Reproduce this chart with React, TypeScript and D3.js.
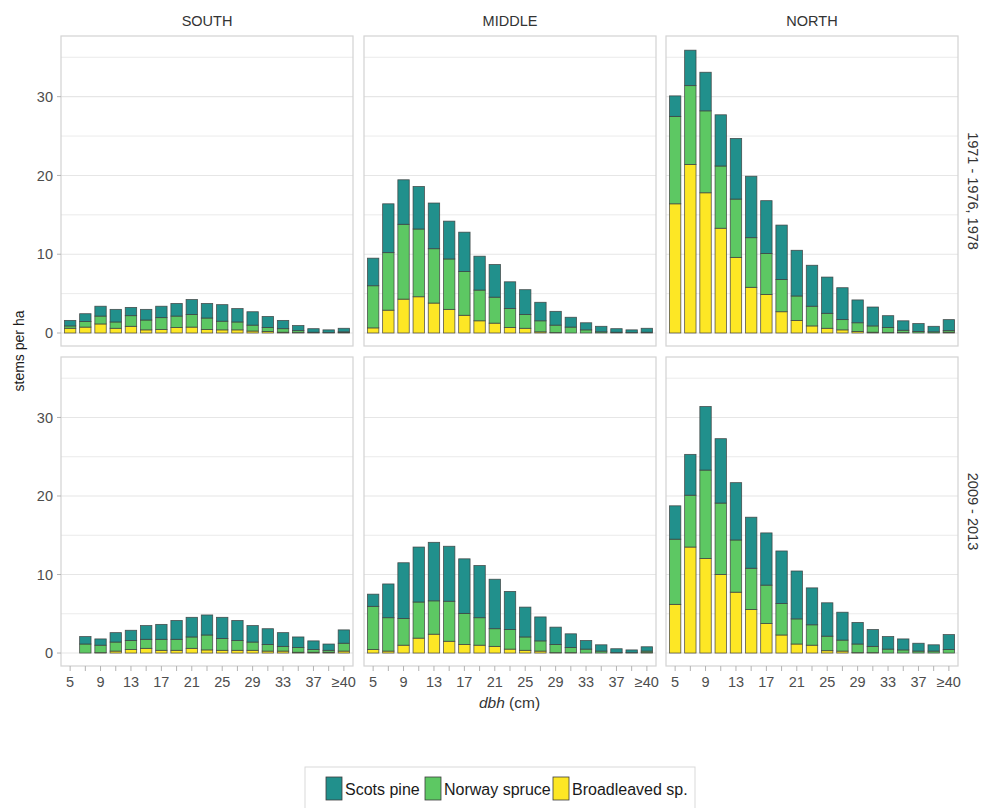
import React from "react";
import * as d3 from "d3";

const categories = ["5","7","9","11","13","15","17","19","21","23","25","27","29","31","33","35","37","39","≥40"];
const xTickLabels = ["5","","9","","13","","17","","21","","25","","29","","33","","37","","≥40"];
const regions = ["SOUTH", "MIDDLE", "NORTH"];
const periods = ["1971 - 1976, 1978", "2009 - 2013"];
const species = ["Broadleaved sp.", "Norway spruce", "Scots pine"];
const legendOrder = ["Scots pine", "Norway spruce", "Broadleaved sp."];
const yTicks = [0, 10, 20, 30];
const yGrid = [0, 5, 10, 15, 20, 25, 30, 35];

// Period 1 (1971 - 1976, 1978)
const southP1Broad = [0.6, 0.75, 1.15, 0.6, 0.85, 0.4, 0.45, 0.7, 0.75, 0.45, 0.4, 0.4, 0.25, 0.2, 0.1, 0.05, 0, 0, 0.05];
const southP1Spruce = [0.3, 0.7, 1.0, 0.8, 1.35, 1.25, 1.5, 1.45, 1.6, 1.45, 1.1, 1.0, 0.75, 0.5, 0.45, 0.25, 0.1, 0.05, 0.1];
const southP1Pine = [0.7, 1.0, 1.25, 1.6, 1.05, 1.35, 1.45, 1.6, 1.9, 1.85, 2.1, 1.7, 1.7, 1.4, 1.05, 0.65, 0.45, 0.35, 0.45];

const middleP1Broad = [0.65, 2.9, 4.3, 4.6, 3.8, 3.0, 2.25, 1.55, 1.25, 0.7, 0.6, 0.15, 0.05, 0, 0, 0, 0, 0, 0];
const middleP1Spruce = [5.35, 7.3, 9.5, 8.6, 6.9, 6.4, 5.55, 3.9, 3.3, 2.4, 1.75, 1.4, 0.95, 0.75, 0.4, 0.15, 0.1, 0.05, 0.1];
const middleP1Pine = [3.5, 6.2, 5.65, 5.4, 5.8, 4.8, 5.0, 4.3, 4.15, 3.4, 3.15, 2.35, 1.75, 1.25, 0.9, 0.7, 0.45, 0.35, 0.5];

const northP1Broad = [16.4, 21.4, 17.8, 13.3, 9.6, 5.8, 4.9, 2.7, 1.6, 0.9, 0.6, 0.4, 0.2, 0.1, 0.05, 0.05, 0, 0, 0.1];
const northP1Spruce = [11.1, 10.0, 10.4, 7.9, 7.4, 6.3, 5.2, 4.1, 3.1, 2.5, 1.9, 1.3, 1.1, 0.8, 0.65, 0.3, 0.2, 0.15, 0.2];
const northP1Pine = [2.6, 4.5, 4.9, 6.5, 7.7, 7.8, 6.7, 6.9, 5.8, 5.2, 4.6, 4.05, 2.9, 2.4, 1.5, 1.2, 1.0, 0.7, 1.4];

// Period 2 (2009 - 2013)
const southP2Broad = [0, 0, 0.05, 0.25, 0.45, 0.6, 0.35, 0.35, 0.6, 0.4, 0.35, 0.35, 0.35, 0.25, 0.25, 0.1, 0.1, 0.1, 0.25];
const southP2Spruce = [0, 1.15, 0.95, 1.15, 1.15, 1.15, 1.4, 1.4, 1.45, 1.9, 1.5, 1.25, 1.05, 0.85, 0.6, 0.6, 0.35, 0.25, 1.0];
const southP2Pine = [0, 0.95, 0.8, 1.2, 1.3, 1.75, 1.9, 2.4, 2.5, 2.55, 2.7, 2.55, 2.1, 2.0, 1.75, 1.35, 1.1, 0.8, 1.7];

const middleP2Broad = [0.45, 0.25, 1.0, 1.9, 2.4, 1.5, 1.1, 1.0, 0.85, 0.5, 0.35, 0.25, 0.05, 0.05, 0, 0, 0, 0, 0.05];
const middleP2Spruce = [5.5, 4.25, 3.4, 4.6, 4.25, 5.1, 3.95, 3.5, 2.25, 2.5, 1.7, 1.3, 1.05, 0.65, 0.5, 0.25, 0.05, 0.05, 0.2];
const middleP2Pine = [1.55, 4.3, 7.1, 7.0, 7.45, 7.0, 6.95, 6.65, 6.3, 4.85, 3.8, 3.05, 2.2, 1.75, 1.1, 0.8, 0.5, 0.35, 0.55];

const northP2Broad = [6.2, 13.5, 12.05, 10.0, 7.75, 5.55, 3.75, 2.3, 1.15, 1.0, 0.3, 0.25, 0.05, 0.05, 0, 0, 0, 0, 0];
const northP2Spruce = [8.3, 6.6, 11.25, 9.1, 6.65, 5.25, 4.9, 4.0, 3.2, 2.6, 1.85, 1.4, 1.1, 0.8, 0.5, 0.4, 0.25, 0.25, 0.45];
const northP2Pine = [4.25, 5.2, 8.1, 8.2, 7.3, 6.5, 6.65, 6.7, 6.1, 4.7, 4.25, 3.55, 2.75, 2.15, 1.6, 1.4, 1.0, 0.8, 1.9];

const panelData = [
  [
    [southP1Broad, southP1Spruce, southP1Pine],
    [middleP1Broad, middleP1Spruce, middleP1Pine],
    [northP1Broad, northP1Spruce, northP1Pine],
  ],
  [
    [southP2Broad, southP2Spruce, southP2Pine],
    [middleP2Broad, middleP2Spruce, middleP2Pine],
    [northP2Broad, northP2Spruce, northP2Pine],
  ],
];

const colors: Record<string, string> = {
  "Scots pine": "#21908C",
  "Norway spruce": "#5DC863",
  "Broadleaved sp.": "#FDE725",
};

const W = 983;
const H = 808;
const colX: [number, number][] = [[61, 353], [364, 656], [666, 958]];
const rowY: [number, number][] = [[36, 346], [357, 666]];
const FONT = "'Liberation Sans', Arial, Helvetica, sans-serif";

export default function App() {
  const color = d3.scaleOrdinal<string, string>().domain(species).range(species.map((s) => colors[s]));

  return (
    <svg width={W} height={H} style={{ position: "absolute", left: 0, top: 0, background: "#fff" }} fontFamily={FONT}>
      <rect x={0} y={0} width={W} height={H} fill="#fff" />
      {panelData.map((row, r) =>
        row.map((series, c) => {
          const [x0, x1] = colX[c];
          const [y0, y1] = rowY[r];
          const x = d3.scaleLinear().domain([-0.6, categories.length - 1 + 0.6]).range([x0, x1]);
          const y = d3.scaleLinear().domain([-1.65, 37.7]).range([y1, y0]);
          const bw = (x(1) - x(0)) * 0.75;
          const rows = categories.map((cat, i) => {
            const o: Record<string, number> = {};
            species.forEach((s, k) => (o[s] = series[k][i]));
            return o;
          });
          const stacked = d3.stack<Record<string, number>>().keys(species)(rows);
          return (
            <g key={`${r}-${c}`}>
              <rect x={x0} y={y0} width={x1 - x0} height={y1 - y0} fill="#fff" />
              {yGrid.map((v) => (
                <line key={v} x1={x0} x2={x1} y1={y(v)} y2={y(v)} stroke="#e6e6e6" strokeWidth={v % 10 === 0 ? 1.1 : 0.8} />
              ))}
              {stacked.map((layer) => (
                <g key={layer.key}>
                  {layer.map((d, i) => (
                    <rect
                      key={i}
                      x={x(i) - bw / 2}
                      y={y(d[1])}
                      width={bw}
                      height={Math.max(0, y(d[0]) - y(d[1]))}
                      fill={color(layer.key)}
                      stroke="#3c3c3c"
                      strokeOpacity={0.85}
                      strokeWidth={0.8}
                    />
                  ))}
                </g>
              ))}
              <rect x={x0} y={y0} width={x1 - x0} height={y1 - y0} fill="none" stroke="#d3d3d3" strokeWidth={1.2} />
              {c === 0 &&
                yTicks.map((v) => (
                  <g key={v}>
                    <line x1={x0 - 4} x2={x0} y1={y(v)} y2={y(v)} stroke="#b3b3b3" />
                    <text x={x0 - 8} y={y(v)} dy="0.36em" textAnchor="end" fontSize={14.5} fill="#4d4d4d">
                      {v}
                    </text>
                  </g>
                ))}
              {r === 1 &&
                categories.map((cat, i) => (
                  <g key={cat}>
                    <line x1={x(i)} x2={x(i)} y1={y1} y2={y1 + 5} stroke="#b3b3b3" />
                    {xTickLabels[i] && (
                      <text x={x(i)} y={y1 + 11} dy="0.71em" textAnchor="middle" fontSize={14.5} fill="#4d4d4d">
                        {xTickLabels[i]}
                      </text>
                    )}
                  </g>
                ))}
              {r === 0 && (
                <text x={(x0 + x1) / 2} y={21} dy="0.35em" textAnchor="middle" fontSize={14.5} fill="#333">
                  {regions[c]}
                </text>
              )}
              {c === 2 && (
                <text
                  transform={`translate(${x1 + 15},${(y0 + y1) / 2}) rotate(90)`}
                  dy="0.35em"
                  textAnchor="middle"
                  fontSize={14.5}
                  fill="#333"
                >
                  {periods[r]}
                </text>
              )}
            </g>
          );
        })
      )}
      <text transform={`translate(19,351) rotate(-90)`} dy="0.35em" textAnchor="middle" fontSize={14} fill="#1a1a1a">
        stems per ha
      </text>
      <text x={509.5} y={703} dy="0.35em" textAnchor="middle" fontSize={15.5} fill="#333">
        <tspan fontStyle="italic">dbh</tspan> (cm)
      </text>
      <g>
        <rect x={305} y={767} width={390} height={60} fill="#fff" stroke="#d9d9d9" strokeWidth={1} />
        {(() => {
          const keyX = [326, 425, 553];
          return legendOrder.map((s, i) => (
            <g key={s}>
              <rect x={keyX[i]} y={777} width={16} height={23} fill={colors[s]} stroke="#3c3c3c" strokeWidth={0.8} />
              <text x={keyX[i] + 19} y={789} dy="0.35em" fontSize={16} fill="#1a1a1a">
                {s}
              </text>
            </g>
          ));
        })()}
      </g>
    </svg>
  );
}
